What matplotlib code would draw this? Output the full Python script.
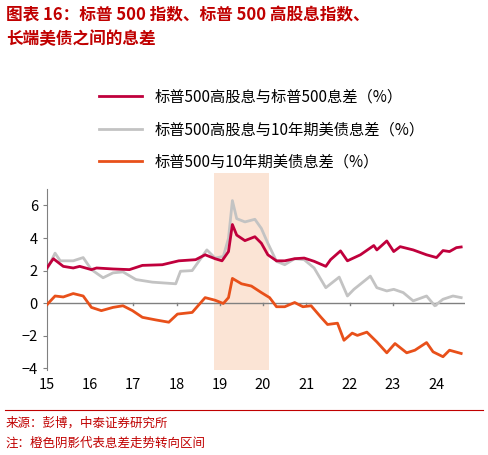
import matplotlib
matplotlib.use("Agg")
import matplotlib.pyplot as plt

plt.rcParams['font.family'] = ['Noto Sans CJK SC', 'DejaVu Sans']

red_x = [15.00,15.15,15.38,15.61,15.76,16.03,16.15,16.53,16.91,17.21,17.67,18.05,18.44,18.66,18.89,19.05,19.20,19.29,19.39,19.58,19.81,19.96,20.11,20.31,20.50,20.73,20.95,21.18,21.45,21.56,21.79,21.95,22.25,22.56,22.63,22.86,23.02,23.17,23.47,23.78,24.01,24.16,24.31,24.47,24.58]
red_y = [2.16,2.73,2.26,2.16,2.26,2.06,2.16,2.1,2.06,2.32,2.36,2.6,2.67,2.97,2.73,2.6,3.17,4.83,4.18,3.84,4.08,3.68,2.97,2.6,2.6,2.73,2.77,2.57,2.26,2.67,3.21,2.6,2.97,3.54,3.27,3.82,3.17,3.47,3.27,2.97,2.8,3.23,3.17,3.41,3.45]

gray_x = [15.00,15.19,15.31,15.61,15.84,16.03,16.30,16.53,16.76,17.06,17.44,17.98,18.09,18.36,18.70,18.89,19.08,19.20,19.29,19.39,19.58,19.81,19.96,20.11,20.31,20.50,20.73,20.95,21.18,21.45,21.76,21.95,22.10,22.48,22.63,22.86,23.02,23.24,23.47,23.78,23.97,24.16,24.39,24.58]
gray_y = [2.06,3.07,2.6,2.6,2.8,2.06,1.56,1.86,1.92,1.45,1.29,1.19,1.96,2.0,3.27,2.77,2.87,3.98,6.3,5.19,4.99,5.15,4.59,3.68,2.57,2.36,2.73,2.67,2.16,0.95,1.6,0.44,0.85,1.66,0.95,0.75,0.85,0.65,0.14,0.44,-0.16,0.24,0.44,0.34]

orange_x = [15.00,15.19,15.38,15.61,15.84,16.03,16.26,16.53,16.76,16.98,17.21,17.52,17.82,18.02,18.36,18.66,18.89,19.08,19.20,19.29,19.50,19.73,19.96,20.15,20.31,20.50,20.73,20.92,21.11,21.34,21.49,21.72,21.87,22.06,22.18,22.40,22.63,22.86,23.05,23.32,23.51,23.78,23.93,24.16,24.31,24.58]
orange_y = [-0.1,0.44,0.38,0.59,0.44,-0.26,-0.46,-0.26,-0.16,-0.46,-0.87,-1.03,-1.17,-0.67,-0.57,0.34,0.18,-0.02,0.34,1.52,1.19,1.05,0.65,0.34,-0.22,-0.22,0.04,-0.22,-0.16,-0.87,-1.31,-1.23,-2.28,-1.84,-1.98,-1.78,-2.38,-3.05,-2.48,-3.05,-2.89,-2.42,-2.99,-3.29,-2.89,-3.09]

xticks = [15,16,17,18,19,20,21,22,23,24]
yticks = [-4,-2,0,2,4,6]
shade = (18.87, 20.13)
labels = ['标普500高股息与标普500息差（%）', '标普500高股息与10年期美债息差（%）', '标普500与10年期美债息差（%）']

fig = plt.figure(figsize=(4.88, 4.55), dpi=100)
ax = fig.add_axes([0.096, 0.187, 0.857, 0.433])
ax.axvspan(*shade, color='#FBE4D5', zorder=0, lw=0)
ax.axhline(0, color='#808080', lw=1, zorder=1)
for t in xticks:
    ax.plot([t, t], [0, -0.12], color='#808080', lw=1, zorder=1)
l1, = ax.plot(red_x, red_y, color='#C0003C', lw=2, zorder=3)
l2, = ax.plot(gray_x, gray_y, color='#C3C3C3', lw=2, zorder=2)
l3, = ax.plot(orange_x, orange_y, color='#E8501A', lw=2, zorder=3)
ax.set_xlim(15, 24.67)
ax.set_ylim(-4.1, 8)
ax.set_yticks(yticks)
ax.set_xticks(xticks)
ax.tick_params(axis='x', length=0, labelsize=10.5, pad=6)
ax.tick_params(axis='y', length=3, color='#808080', labelsize=10.5)
for s in ['top', 'right', 'bottom']:
    ax.spines[s].set_visible(False)
ax.spines['left'].set_color('#808080')
ax.spines['left'].set_bounds(-4.1, 7)

fig.legend([l1, l2, l3], labels, loc='upper left', bbox_to_anchor=(0.175, 0.835),
           frameon=False, fontsize=11, handlelength=2.8, labelspacing=1.0)

fig.text(0.012, 0.985, '图表 16：标普 500 指数、标普 500 高股息指数、\n长端美债之间的息差', color='#C00000',
         fontsize=12, fontweight='bold', style='italic', va='top', linespacing=1.4)
fig.lines.append(plt.Line2D([0.01, 0.99], [0.1, 0.1], color='#C00000', lw=0.8, transform=fig.transFigure))
fig.text(0.012, 0.085, '来源：彭博，中泰证券研究所', color='#C00000', fontsize=9, va='top')
fig.text(0.012, 0.04, '注：橙色阴影代表息差走势转向区间', color='#C00000', fontsize=9, va='top')
fig.savefig('out.png', dpi=100)
